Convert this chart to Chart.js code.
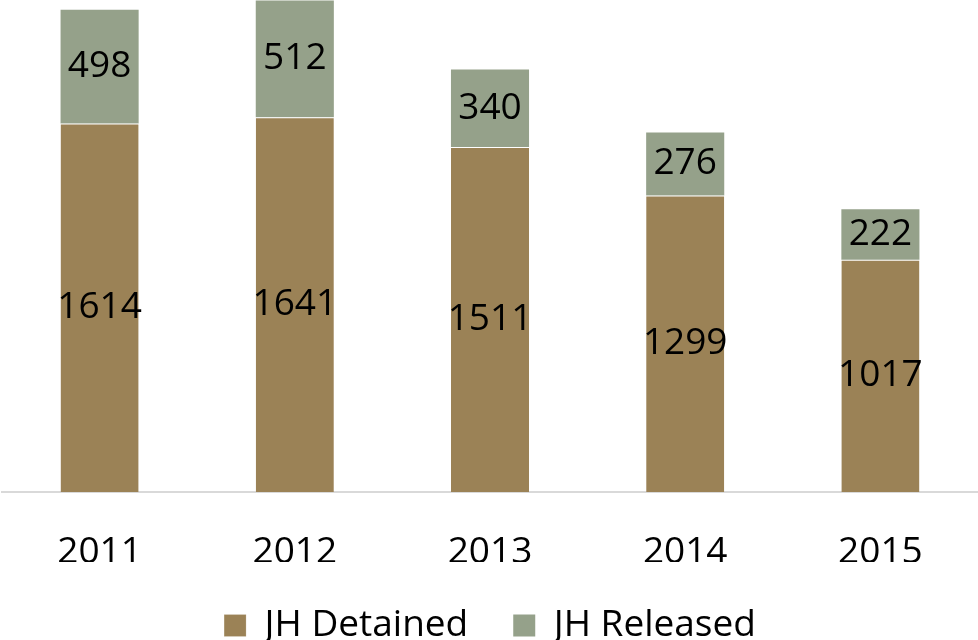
<!DOCTYPE html>
<html>
<head>
<meta charset="utf-8">
<script src="https://cdn.jsdelivr.net/npm/chart.js@4/dist/chart.umd.min.js"></script>
<style>
  html, body { margin: 0; padding: 0; background: #fff; }
  #wrap { width: 978px; height: 640px; }
</style>
</head>
<body>
<div id="wrap"><canvas id="jhChart" width="978" height="640"></canvas></div>
<script>
const years = ['2011', '2012', '2013', '2014', '2015'];
const detained = [1614, 1641, 1511, 1299, 1017];
const released = [498, 512, 340, 276, 222];

const FONT = '"Open Sans", "Liberation Sans", sans-serif';

// draw the value in the middle of each bar segment
const segmentLabels = {
  id: 'segmentLabels',
  afterDatasetsDraw(chart) {
    const ctx = chart.ctx;
    ctx.save();
    ctx.font = '37px ' + FONT;
    ctx.fillStyle = '#000';
    ctx.textAlign = 'center';
    ctx.textBaseline = 'middle';
    chart.data.datasets.forEach((ds, i) => {
      chart.getDatasetMeta(i).data.forEach((bar, j) => {
        ctx.fillText(String(ds.data[j]), bar.x, (bar.y + bar.base) / 2);
      });
    });
    ctx.restore();
  }
};

const ctx = document.getElementById('jhChart').getContext('2d');
new Chart(ctx, {
  type: 'bar',
  data: {
    labels: years,
    datasets: [
      {
        label: 'JH Detained',
        data: detained,
        backgroundColor: '#9B8256',
        borderColor: 'rgba(255,255,255,0.7)',
        borderWidth: { top: 1, left: 0, right: 0, bottom: 0 },
        borderSkipped: false,
        barPercentage: 0.4,
        categoryPercentage: 1
      },
      {
        label: 'JH Released',
        data: released,
        backgroundColor: '#95A18A',
        borderWidth: 0,
        barPercentage: 0.4,
        categoryPercentage: 1
      }
    ]
  },
  options: {
    responsive: false,
    animation: false,
    layout: { padding: { top: 0, left: 2, right: 0, bottom: -14 } },
    scales: {
      x: {
        stacked: true,
        grid: { display: false },
        border: { color: '#D9D9D9', width: 2 },
        ticks: { color: '#000', font: { size: 37, family: FONT }, padding: 30 },
        afterFit(scale) { scale.height = 70; }
      },
      y: {
        stacked: true,
        display: false,
        min: 0,
        max: 2155
      }
    },
    plugins: {
      legend: {
        position: 'bottom',
        labels: {
          color: '#000',
          font: { size: 37, family: FONT },
          boxWidth: 22,
          boxHeight: 22,
          padding: 45
        }
      },
      tooltip: { enabled: false }
    }
  },
  plugins: [segmentLabels]
});
</script>
</body>
</html>
